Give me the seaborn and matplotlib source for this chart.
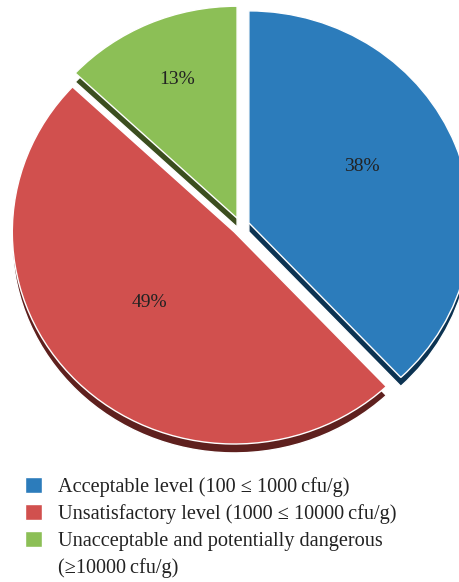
import numpy as np
import seaborn as sns
import matplotlib.pyplot as plt
from matplotlib.patches import Patch

categories = ['Acceptable level (100 \u2264 1000\u2009cfu/g)',
              'Unsatisfactory level (1000 \u2264 10000\u2009cfu/g)',
              'Unacceptable and potentially dangerous']
extra_line = '(\u226510000\u2009cfu/g)'
shares = [38, 49, 13]
colors = ['#2c7cbb', '#d1504e', '#8cbf56']
shadow_colors = ['#0c3352', '#5e201e', '#3b4e1f']

sns.set_theme(style='white')
plt.rcParams['font.family'] = ['Liberation Serif', 'DejaVu Serif']

fig = plt.figure(figsize=(4.59, 5.82), dpi=100)
ax = fig.add_axes([0, 1 - 460 / 582, 1, 460 / 582])

explode = [0.04] * len(shares)
# darker copy shifted down gives the 3d edge
ax.pie(shares, colors=shadow_colors, startangle=90, counterclock=False,
       explode=explode, center=(0, -0.042))
wedges, texts, autotexts = ax.pie(shares, colors=colors, startangle=90, counterclock=False,
                                  explode=explode, autopct='%d%%',
                                  textprops={'fontsize': 14, 'color': '#222222'})

# label placement: distance from wedge tip and small angle nudge
label_dist = [0.574, 0.506, 0.709]
label_turn = [6, -4, -1]
for w, t, d, a in zip(wedges, autotexts, label_dist, label_turn):
    cx, cy = w.center
    th = np.deg2rad((w.theta1 + w.theta2) / 2 + a)
    t.set_position((cx + d * np.cos(th), cy + d * np.sin(th)))

ax.set_aspect('auto')
ax.set_xlim(-240.6 / 222, (459 - 240.6) / 222)
ax.set_ylim(-(460 - 226) / 212, 226 / 212)
ax.axis('off')

handles = list(wedges) + [Patch(facecolor='none', edgecolor='none')]
labels = categories + [extra_line]
leg = fig.legend(handles, labels, loc='upper left', bbox_to_anchor=(0.037, 0.195),
                 frameon=False, fontsize=14.6, handlelength=0.85, handleheight=0.85,
                 handletextpad=0.75, labelspacing=0.34, borderaxespad=0)
for t in leg.get_texts():
    t.set_color('#222222')

fig.savefig('out.png', dpi=100)
